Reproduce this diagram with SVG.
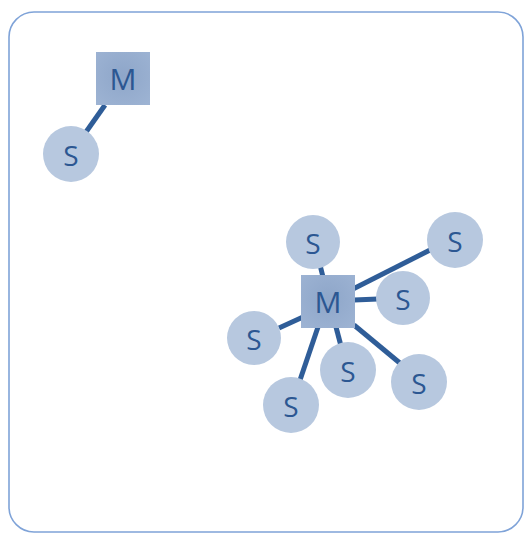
<svg xmlns="http://www.w3.org/2000/svg" width="526" height="535" viewBox="0 0 526 535">
  <style>
    .frame { fill: #ffffff; stroke: #7fa3d8; stroke-width: 1.6; }
    .link { stroke: #2f5d98; stroke-width: 5; stroke-linecap: butt; }
    .slave { fill: #b7c8df; }
    .master { fill: url(#mgrad); }
    .lbl { font-family: "Open Sans", "Liberation Sans", sans-serif; fill: #2c5792; text-anchor: middle; dominant-baseline: central; }
    .m { font-size: 30px; }
    .s { font-size: 28px; }
  </style>
  <defs>
    <radialGradient id="mgrad" cx="0.5" cy="0.45" r="0.7">
      <stop offset="0" stop-color="#8ea6c9"/>
      <stop offset="1" stop-color="#9db3d3"/>
    </radialGradient>
  </defs>

  <rect class="frame" x="9" y="12" width="514" height="520" rx="25" ry="25"/>

  <g id="connectors">
    <line class="link" x1="105" y1="105" x2="86" y2="132"/>
    <line class="link" x1="320" y1="265" x2="323" y2="277"/>
    <line class="link" x1="353" y1="289" x2="432" y2="249"/>
    <line class="link" x1="354" y1="300" x2="378" y2="299"/>
    <line class="link" x1="303" y1="317" x2="279" y2="328"/>
    <line class="link" x1="318" y1="327" x2="299" y2="383"/>
    <line class="link" x1="336" y1="327" x2="341" y2="346"/>
    <line class="link" x1="354" y1="325" x2="401" y2="364"/>
  </g>

  <g id="master-a">
    <rect class="master" x="96" y="52" width="54" height="53"/>
    <text class="lbl m" x="123" y="78">M</text>
  </g>
  <g id="slave-a">
    <circle class="slave" cx="71" cy="154" r="28"/>
    <text class="lbl s" x="71" y="155">S</text>
  </g>

  <g id="master-b">
    <rect class="master" x="301" y="275" width="54" height="53"/>
    <text class="lbl m" x="328" y="301">M</text>
  </g>
  <g id="slave-b1">
    <circle class="slave" cx="313" cy="242" r="27"/>
    <text class="lbl s" x="313" y="243">S</text>
  </g>
  <g id="slave-b2">
    <circle class="slave" cx="455" cy="240" r="28"/>
    <text class="lbl s" x="455" y="241">S</text>
  </g>
  <g id="slave-b3">
    <circle class="slave" cx="403" cy="298" r="27"/>
    <text class="lbl s" x="403" y="299">S</text>
  </g>
  <g id="slave-b4">
    <circle class="slave" cx="254" cy="338" r="27"/>
    <text class="lbl s" x="254" y="339">S</text>
  </g>
  <g id="slave-b5">
    <circle class="slave" cx="291" cy="405" r="28"/>
    <text class="lbl s" x="291" y="406">S</text>
  </g>
  <g id="slave-b6">
    <circle class="slave" cx="348" cy="370" r="28"/>
    <text class="lbl s" x="348" y="371">S</text>
  </g>
  <g id="slave-b7">
    <circle class="slave" cx="419" cy="382" r="28"/>
    <text class="lbl s" x="419" y="383">S</text>
  </g>
</svg>
